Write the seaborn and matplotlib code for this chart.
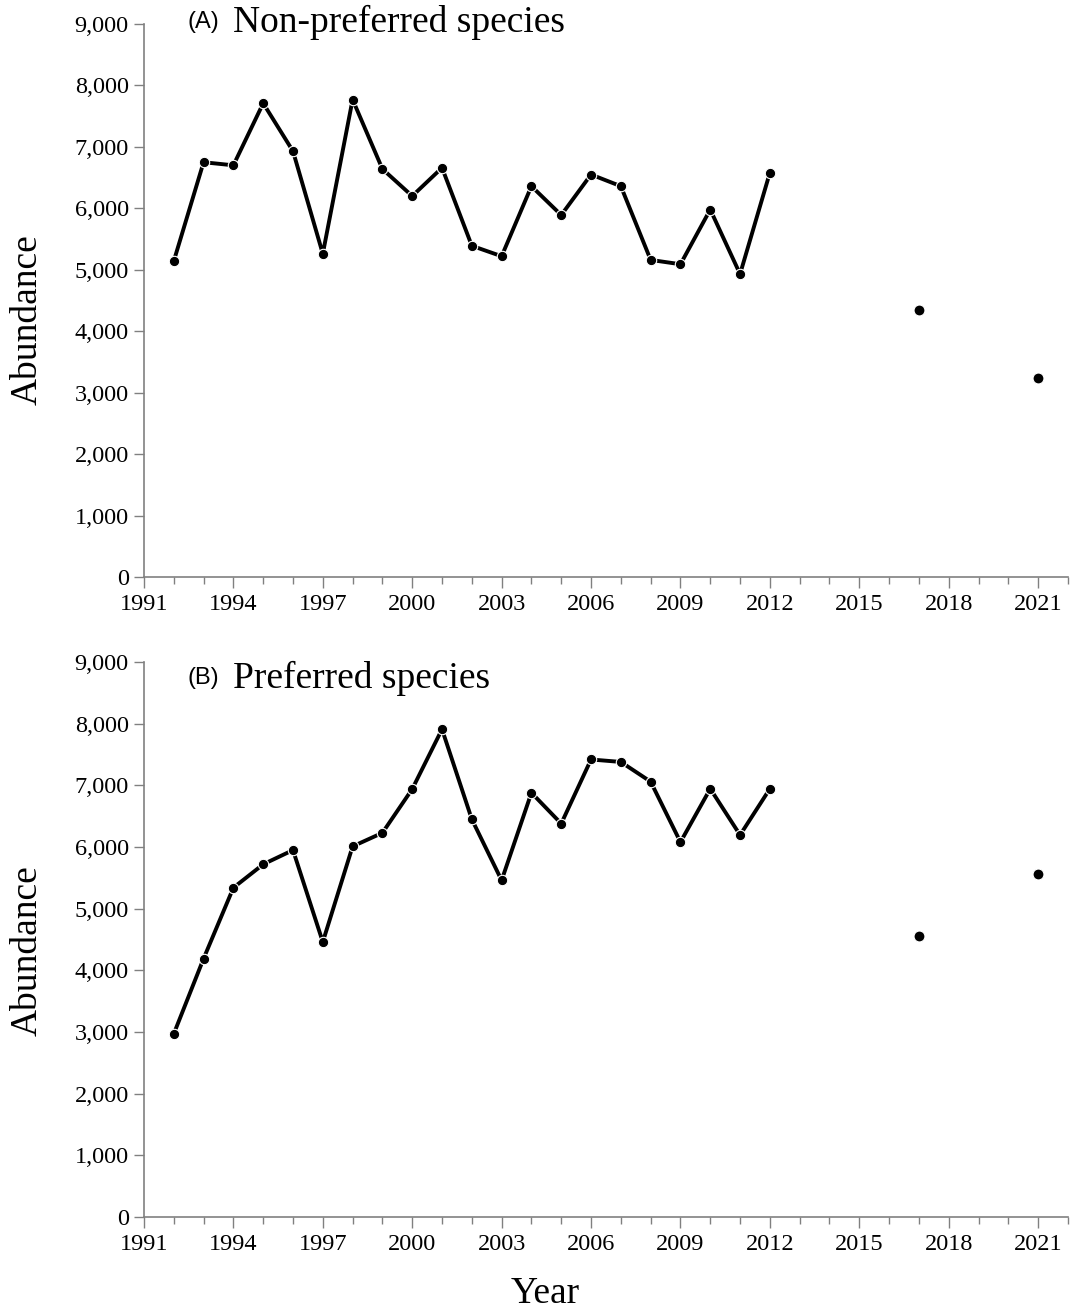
import matplotlib
matplotlib.use('Agg')
import matplotlib.pyplot as plt
from matplotlib.ticker import MultipleLocator, FuncFormatter
import seaborn as sns
import pandas as pd

# survey years (continuous series) and later revisits
years = list(range(1992, 2013))
later_years = [2017, 2021]
year_ticks = list(range(1991, 2022, 3))

# (A) non-preferred species
nonpref = [5140, 6750, 6700, 7710, 6930, 5260, 7770, 6640, 6200, 6660,
           5390, 5220, 6360, 5890, 6550, 6360, 5160, 5090, 5980, 4930, 6580]
nonpref_later = [4350, 3240]

# (B) preferred species
pref = [2970, 4190, 5340, 5720, 5950, 4460, 6010, 6230, 6940, 7910,
        6450, 5460, 6880, 6380, 7420, 7380, 7060, 6080, 6945, 6195, 6945]
pref_later = [4560, 5560]

panels = [("(A)", "Non-preferred species", nonpref, nonpref_later),
          ("(B)", "Preferred species", pref, pref_later)]

sns.set_style('ticks')
plt.rcParams['font.family'] = ['Liberation Serif', 'DejaVu Serif']
plt.rcParams['text.color'] = 'black'
plt.rcParams['axes.labelcolor'] = 'black'
plt.rcParams['xtick.labelcolor'] = 'black'
plt.rcParams['ytick.labelcolor'] = 'black'

fig = plt.figure(figsize=(10.76, 13.11), dpi=100)
ax_a = fig.add_axes([0.1338, 0.5599, 0.8587, 0.4218])
ax_b = fig.add_axes([0.1338, 0.0717, 0.8587, 0.4233])

for ax, (tag, name, vals, later), ty, ly in zip([ax_a, ax_b], panels,
                                                 [9030, 8740], [0.465, 0.48]):
    df = pd.DataFrame({'Year': years, 'Abundance': vals})
    df2 = pd.DataFrame({'Year': later_years, 'Abundance': later})
    sns.lineplot(data=df, x='Year', y='Abundance', ax=ax, color='black',
                 linewidth=2.8, marker='o', markersize=7.5,
                 markeredgecolor='white', markeredgewidth=0.8)
    sns.scatterplot(data=df2, x='Year', y='Abundance', ax=ax, color='black',
                    s=62, edgecolor='white', linewidth=0.8, zorder=3)

    ax.set_xlim(1991, 2022)
    ax.set_ylim(0, 9000)
    ax.set_xticks(year_ticks)
    ax.xaxis.set_minor_locator(MultipleLocator(1))
    ax.yaxis.set_major_locator(MultipleLocator(1000))
    ax.yaxis.set_major_formatter(FuncFormatter(lambda v, p: f"{int(v):,}"))
    ax.tick_params(axis='both', which='major', labelsize=17.5, color='#808080',
                   width=1.0, length=7, pad=4)
    ax.tick_params(axis='x', which='minor', color='#808080', width=1.0, length=5)
    ax.tick_params(axis='x', which='major', length=8)
    for side in ['left', 'bottom']:
        ax.spines[side].set_color('#808080')
        ax.spines[side].set_linewidth(1.2)
    sns.despine(ax=ax)
    ax.set_xlabel('')
    ax.set_ylabel('Abundance', fontsize=27)
    ax.yaxis.set_label_coords(-0.108, ly)

    ax.text(1992.45, ty, tag, fontsize=17, family=['Liberation Sans'],
            va='center', ha='left')
    ax.text(1994.0, ty, name, fontsize=27, va='center', ha='left')

fig.text(0.507, 0.0, 'Year', fontsize=27, ha='center', va='bottom')

fig.savefig('out.png', dpi=100)
